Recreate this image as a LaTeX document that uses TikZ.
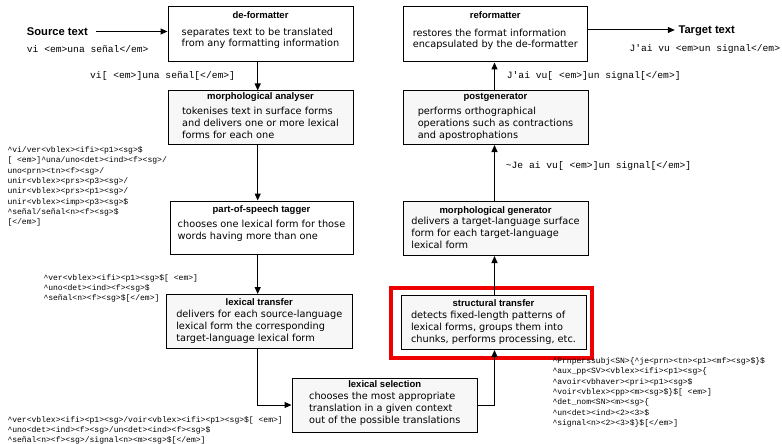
\documentclass[tikz,border=0pt]{standalone}
\usepackage{fontspec}
\setmainfont{DejaVu Sans}
\newfontfamily\titlefam{Liberation Sans}
\setmonofont{Liberation Mono}
\usetikzlibrary{arrows.meta}
\definecolor{hlred}{RGB}{238,0,0}
\definecolor{boxgray}{RGB}{247,247,247}
\newcommand\hatc{\textasciicircum}
\tikzset{
  box/.style={draw=black, line width=1pt, inner sep=0pt, fill=white},
  gbox/.style={box, fill=boxgray},
  ttl/.style={font=\titlefam\bfseries\fontsize{9.5}{11}\selectfont, inner sep=0pt, text height=6.8pt, text depth=2pt},
  body/.style={font=\fontsize{9.75}{12}\selectfont, align=left, inner sep=0pt, anchor=north},
  bodyt/.style={body, font=\fontsize{9.75}{11}\selectfont},
  code/.style={font=\ttfamily\fontsize{9.65}{11}\selectfont, inner sep=0pt, anchor=west, text height=6.5pt, text depth=1.8pt},
  small/.style={font=\ttfamily\fontsize{8.05}{10.3}\selectfont, inner sep=0pt, anchor=north west, align=left},
  big/.style={font=\titlefam\bfseries\fontsize{11.2}{13}\selectfont, inner sep=0pt, anchor=west, text height=8pt, text depth=0pt},
  arr/.style={line width=1pt, -{Triangle[length=7pt,width=6pt]}},
}
\begin{document}
\begin{tikzpicture}[x=1pt,y=-1pt]
\useasboundingbox (0,0) rectangle (782,444);

% highlight frame
\node[draw=hlred, line width=4pt, minimum width=200.5pt, minimum height=69.5pt, inner sep=0pt] (hl) at (491.25,322.75) {};

% boxes
\node[box,  minimum width=185pt, minimum height=55pt] (deform) at (260.5,34.5) {};
\node[gbox, minimum width=185pt, minimum height=53.5pt] (morphA) at (260.5,117.75) {};
\node[box,  minimum width=183pt, minimum height=53pt] (POS) at (261.5,227.5) {};
\node[gbox, minimum width=185.5pt, minimum height=54pt] (lextrans) at (259.25,321.5) {};
\node[gbox, minimum width=185.5pt, minimum height=53.5pt] (lexsel) at (384.75,405.25) {};
\node[gbox, minimum width=185pt, minimum height=54.5pt] (struct) at (493.5,322.25) {};
\node[gbox, minimum width=185pt, minimum height=54.5pt] (morphgen) at (495.5,228.25) {};
\node[gbox, minimum width=185pt, minimum height=53.5pt] (postgen) at (495.5,117.75) {};
\node[box,  minimum width=184.5pt, minimum height=55pt] (reform) at (495.25,34.5) {};

% titles
\node[ttl] (tdeform) at (260.5,15.7) {de-formatter};
\node[ttl] (tmorphA) at (260.5,96.7) {morphological analyser};
\node[ttl] (tPOS) at (261.5,210) {part-of-speech tagger};
\node[ttl] (tlextrans) at (259.25,302.7) {lexical transfer};
\node[ttl] (tlexsel) at (384.75,385) {lexical selection};
\node[ttl] (tstruct) at (493.5,304) {structural transfer};
\node[ttl] (tmorphgen) at (495.5,211) {morphological generator};
\node[ttl] (tpostgen) at (495.5,96.7) {postgenerator};
\node[ttl] (treform) at (495.25,15.7) {reformatter};

% bodies
\node[bodyt] (bdeform) at (260.5,27.25) {\strut separates text to be translated\\from any formatting information};
\node[body] (bmorphA) at (260.5,105.95) {\strut tokenises text in surface forms\\and delivers one or more lexical\\forms for each one};
\node[body] (bPOS) at (261.5,219.25) {\strut chooses one lexical form for those\\words having more than one};
\node[body] (blextrans) at (259.25,308.95) {\strut delivers for each source-language\\lexical form the corresponding\\target-language lexical form};
\node[body] (blexsel) at (384.75,390.95) {\strut chooses the most appropriate\\translation in a given context\\out of the possible translations};
\node[body] (bstruct) at (493.5,310.25) {\strut detects fixed-length patterns of\\lexical forms, groups them into\\chunks, performs processing, etc.};
\node[body] (bmorphgen) at (495.5,215.95) {\strut delivers a target-language surface\\form for each target-language\\lexical form};
\node[body] (bpostgen) at (495.5,106.25) {\strut performs orthographical\\operations such as contractions\\and apostrophations};
\node[bodyt] (breform) at (495.25,28.25) {\strut restores the format information\\encapsulated by the de-formatter};

% outer labels
\node[big] (src) at (26.7,31.5) {Source text};
\node[big] (tgt) at (678.3,30) {Target text};
\node[code] (c1) at (26.7,50) {vi <em>una señal</em>};
\node[code] (c2) at (90,76) {vi[ <em>]una señal[</em>]};
\node[code] (c3) at (629.3,49.3) {J'ai vu <em>un signal</em>};
\node[code] (c4) at (506.7,76) {J'ai vu[ <em>]un signal[</em>]};
\node[code] (c5) at (505.7,165.7) {\textasciitilde Je ai vu[ <em>]un signal[</em>]};

\node[small] (s1) at (7.3,145.2) {\strut\hatc vi/ver<vblex><ifi><p1><sg>\$\\
{}[ <em>]\hatc una/uno<det><ind><f><sg>/\\
uno<prn><tn><f><sg>/\\
unir<vblex><prs><p3><sg>/\\
unir<vblex><prs><p1><sg>/\\
unir<vblex><imp><p3><sg>\$\\
\hatc señal/señal<n><f><sg>\$\\
{}[</em>]};
\node[small] (s2) at (43.3,272.9) {\strut\hatc ver<vblex><ifi><p1><sg>\$[ <em>]\\
\hatc uno<det><ind><f><sg>\$\\
\hatc señal<n><f><sg>\$[</em>]};
\node[small] (s3) at (7.3,414.7) {\strut\hatc ver<vblex><ifi><p1><sg>/voir<vblex><ifi><p1><sg>\$[ <em>]\\
\hatc uno<det><ind><f><sg>/un<det><ind><f><sg>\$\\
\hatc señal<n><f><sg>/signal<n><m><sg>\$[</em>]};
\node[small] (s4) at (552.3,356.2) {\strut\hatc Prnperssubj<SN>\{\hatc je<prn><tn><p1><mf><sg>\$\}\$\\
\hatc aux\_pp<SV><vblex><ifi><p1><sg>\{\\
\hatc avoir<vbhaver><pri><p1><sg>\$\\
\hatc voir<vblex><pp><m><sg>\$\}\$[ <em>]\\
\hatc det\_nom<SN><m><sg>\{\\
\hatc un<det><ind><2><3>\$\\
\hatc signal<n><2><3>\$\}\$[</em>]};

% connectors
\coordinate (axL) at (257.7,0);
\coordinate (axR) at (494.5,0);
\coordinate (lsy) at (0,405);
\draw[arr] ([xshift=7.5pt]src.east) -- (deform.west |- src.east);
\draw[arr] (deform.south -| axL) -- (morphA.north -| axL);
\draw[arr] (morphA.south -| axL) -- (POS.north -| axL);
\draw[arr] (POS.south -| axL) -- (lextrans.north -| axL);
\draw[arr] (lextrans.south -| axL) -- (axL |- lsy) -- (lexsel.west |- lsy);
\draw[arr] (lexsel.east |- lsy) -- (axR |- lsy) -- (struct.south -| axR);
\draw[arr] (struct.north -| axR) -- (morphgen.south -| axR);
\draw[arr] (morphgen.north -| axR) -- (postgen.south -| axR);
\draw[arr] (postgen.north -| axR) -- (reform.south -| axR);
\draw[arr] (reform.east |- tgt.west) -- ([xshift=-3.5pt]tgt.west);
\end{tikzpicture}
\end{document}
